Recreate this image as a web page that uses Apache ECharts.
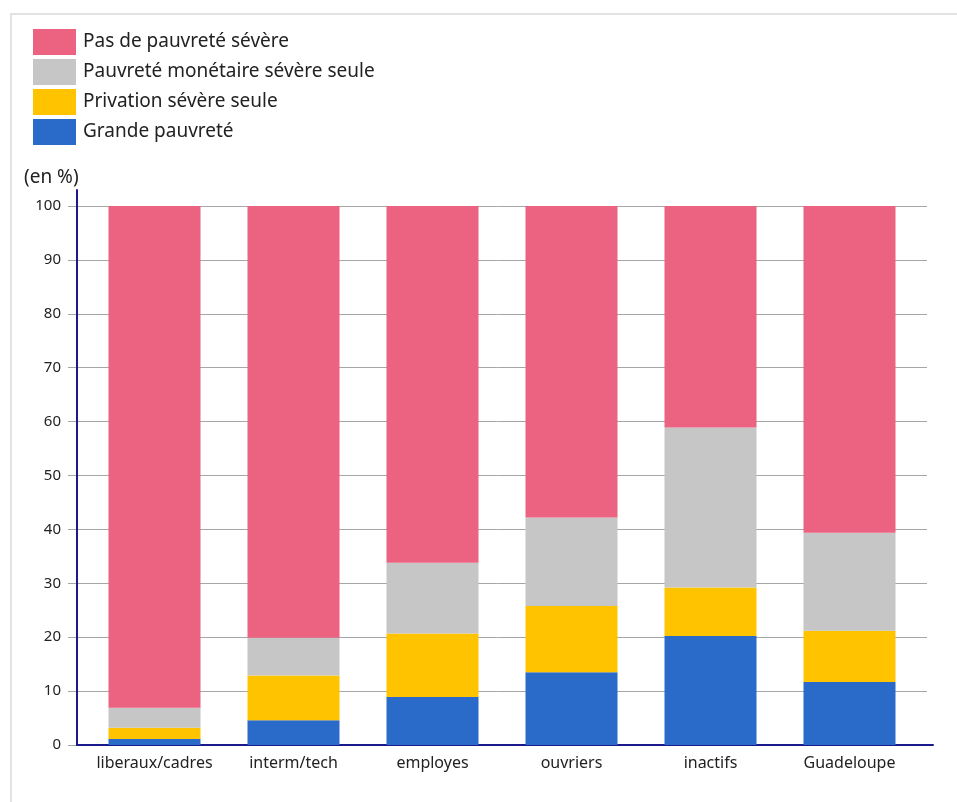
<!DOCTYPE html>
<html>
<head>
<meta charset="utf-8">
<script src="https://cdn.jsdelivr.net/npm/echarts@6/dist/echarts.min.js"></script>
<style>
html,body{margin:0;padding:0;background:#fff;}
#frame{position:absolute;left:10px;top:13px;width:947px;height:789px;border-left:2px solid #e2e2e2;border-top:2px solid #e2e2e2;box-sizing:border-box;}
#chart{position:absolute;left:0;top:0;width:957px;height:802px;}
</style>
</head>
<body>
<div id="frame"></div>
<div id="chart"></div>
<script>
const categories = ['liberaux/cadres', 'interm/tech', 'employes', 'ouvriers', 'inactifs', 'Guadeloupe'];
const seriesNames = ['Grande pauvreté', 'Privation sévère seule', 'Pauvreté monétaire sévère seule', 'Pas de pauvreté sévère'];
const grandePauvrete = [1.1, 4.6, 8.9, 13.5, 20.2, 11.7];
const privationSevere = [2.1, 8.3, 11.8, 12.3, 9.0, 9.5];
const pauvreteMonetaire = [3.7, 7.0, 13.1, 16.4, 29.7, 18.2];
const pasDePauvrete = [93.1, 80.1, 66.2, 57.8, 41.1, 60.6];
const yTicks = [0, 10, 20, 30, 40, 50, 60, 70, 80, 90, 100];

const colors = ['#2a6bc9', '#ffc300', '#c6c6c6', '#ec6281'];
const values = [grandePauvrete, privationSevere, pauvreteMonetaire, pasDePauvrete];
const FONT = 'Noto Sans';

const chart = echarts.init(document.getElementById('chart'), null, {renderer: 'canvas'});
const plotTop = 206, plotBottom = 745;
const axisTop = 190;
const extMax = 100 * (plotBottom - axisTop) / (plotBottom - plotTop);

chart.setOption({
  animation: false,
  backgroundColor: 'transparent',
  textStyle: {fontFamily: FONT},
  title: {
    text: '(en %)', left: 19, top: 163,
    textStyle: {fontFamily: FONT, fontSize: 19, fontWeight: 'normal', color: '#222'}
  },
  legend: {
    orient: 'vertical', left: 28, top: 24,
    itemWidth: 43, itemHeight: 26, itemGap: 4,
    icon: 'rect',
    data: seriesNames.slice().reverse(),
    textStyle: {fontFamily: FONT, fontSize: 19, color: '#222', padding: [0, 0, 0, 2]},
    selectedMode: false
  },
  grid: [
    {left: 85, top: plotTop, width: 834, height: plotBottom - plotTop},
    {left: 68, top: plotTop, width: 859, height: plotBottom - plotTop},
    {left: 77, top: axisTop, width: 856, height: plotBottom - axisTop}
  ],
  xAxis: [
    {gridIndex: 0, type: 'category', data: categories,
     axisLine: {show: false}, axisTick: {show: false},
     axisLabel: {interval: 0, hideOverlap: false, fontFamily: FONT, fontSize: 16, color: '#222', margin: 10}},
    {gridIndex: 1, type: 'category', data: categories, show: false},
    {gridIndex: 2, type: 'category', data: categories,
     axisLine: {show: true, lineStyle: {color: '#1a1a8c', width: 2}},
     axisTick: {show: false}, axisLabel: {show: false}}
  ],
  yAxis: [
    {gridIndex: 0, type: 'value', min: 0, max: 100, show: false},
    {gridIndex: 1, type: 'value', min: 0, max: 100, interval: 10,
     axisLine: {show: false}, axisTick: {show: false}, axisLabel: {show: false},
     splitLine: {show: true, lineStyle: {color: '#a6a6a6', width: 1}}},
    {gridIndex: 2, type: 'value', min: 0, max: extMax,
     axisLine: {show: true, lineStyle: {color: '#1a1a8c', width: 2}},
     axisTick: {show: false},
     splitLine: {show: false},
     axisLabel: {customValues: yTicks, fontFamily: FONT, fontSize: 15, color: '#222', margin: 16}}
  ],
  series: seriesNames.map((name, i) => ({
    name: name,
    type: 'bar',
    stack: 'total',
    xAxisIndex: 0, yAxisIndex: 0,
    barWidth: 92,
    itemStyle: {color: colors[i]},
    data: values[i]
  }))
});
</script>
</body>
</html>
